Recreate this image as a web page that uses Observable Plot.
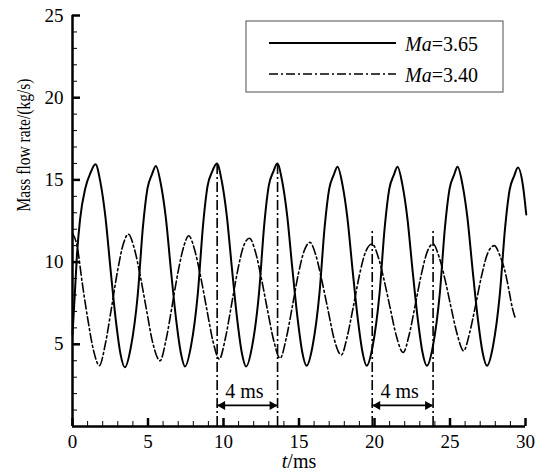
<!DOCTYPE html>
<html>
<head>
<meta charset="utf-8">
<script src="https://cdn.jsdelivr.net/npm/d3@7"></script>
<script src="https://cdn.jsdelivr.net/npm/@observablehq/plot@0.6"></script>
<style>
  body { margin: 0; background: #fff; }
  #wrap { position: relative; width: 542px; height: 473px; overflow: hidden; background: #fff; }
  #legend { position: absolute; left: 245px; top: 20px; }
  svg text { font-family: "Liberation Serif", Tinos, "Times New Roman", "DejaVu Serif", serif; }
</style>
</head>
<body>
<div id="wrap"><div id="chart"></div><svg id="legend" width="262" height="76"></svg></div>
<script>
// ---- data ----
const seriesNames = ["3.65", "3.40"];

// Ma = 3.65 (solid)
const t365 = [0, 0.15, 0.3, 0.5, 0.85, 1.2, 1.52,
  1.85, 2.18, 2.52, 2.87, 3.17, 3.47,
  3.87, 4.32, 4.67, 4.97, 5.27, 5.52,
  5.85, 6.18, 6.52, 6.87, 7.17, 7.45,
  7.85, 8.3, 8.65, 8.95, 9.25, 9.56,
  9.89, 10.22, 10.56, 10.91, 11.21, 11.5,
  11.9, 12.35, 12.7, 13.0, 13.3, 13.56,
  13.89, 14.22, 14.56, 14.91, 15.21, 15.5,
  15.9, 16.35, 16.7, 17.0, 17.3, 17.55,
  17.88, 18.21, 18.55, 18.9, 19.2, 19.48,
  19.88, 20.33, 20.68, 20.98, 21.28, 21.52,
  21.85, 22.18, 22.52, 22.87, 23.17, 23.47,
  23.87, 24.32, 24.67, 24.97, 25.27, 25.5,
  25.83, 26.16, 26.5, 26.85, 27.15, 27.45,
  27.85, 28.3, 28.65, 28.95, 29.25, 29.5,
  29.83, 30.05];
const v365 = [5.6, 8.0, 10.5, 12.6, 14.5, 15.45, 15.95,
  14.85, 12.75, 9.55, 6.45, 4.45, 3.6,
  4.85, 8.0, 12.2, 14.5, 15.35, 15.85,
  14.75, 12.7, 9.5, 6.45, 4.5, 3.65,
  4.9, 8.1, 12.3, 14.65, 15.5, 16.0,
  14.9, 12.8, 9.6, 6.5, 4.5, 3.65,
  4.9, 8.1, 12.3, 14.65, 15.5, 16.0,
  14.9, 12.8, 9.6, 6.55, 4.55, 3.7,
  4.9, 8.05, 12.15, 14.45, 15.3, 15.8,
  14.7, 12.65, 9.5, 6.5, 4.55, 3.7,
  4.9, 8.05, 12.15, 14.45, 15.3, 15.8,
  14.7, 12.65, 9.5, 6.5, 4.55, 3.7,
  4.9, 8.05, 12.15, 14.45, 15.3, 15.8,
  14.7, 12.65, 9.5, 6.5, 4.55, 3.7,
  4.9, 8.05, 12.1, 14.4, 15.25, 15.75,
  14.65, 12.9];

// Ma = 3.40 (dash-dot)
const t340 = [0, 0.3, 0.65, 1.0, 1.4, 1.78,
  2.18, 2.58, 2.98, 3.38, 3.7,
  4.1, 4.5, 4.9, 5.3, 5.8,
  6.2, 6.6, 7.0, 7.4, 7.7,
  8.1, 8.5, 8.9, 9.3, 9.72,
  10.12, 10.52, 10.92, 11.32, 11.72,
  12.12, 12.52, 12.92, 13.32, 13.75,
  14.15, 14.55, 14.95, 15.35, 15.72,
  16.12, 16.52, 16.92, 17.32, 17.8,
  18.2, 18.6, 19.0, 19.4, 19.85,
  20.25, 20.65, 21.05, 21.45, 21.9,
  22.3, 22.7, 23.1, 23.5, 23.88,
  24.28, 24.68, 25.08, 25.48, 25.9,
  26.3, 26.7, 27.1, 27.5, 27.93,
  28.34, 28.68, 28.9, 29.12, 29.34];
const v340 = [11.75, 11.0, 8.7, 6.6, 4.6, 3.7,
  5.05, 7.2, 9.45, 11.15, 11.7,
  10.8, 9.1, 7.1, 5.15, 4.0,
  5.3, 7.35, 9.45, 11.05, 11.6,
  10.7, 9.05, 7.1, 5.2, 4.1,
  5.35, 7.35, 9.4, 10.95, 11.45,
  10.6, 8.95, 7.05, 5.25, 4.15,
  5.35, 7.25, 9.25, 10.7, 11.2,
  10.4, 8.85, 7.1, 5.35, 4.35,
  5.5, 7.3, 9.2, 10.6, 11.1,
  10.3, 8.85, 7.15, 5.5, 4.5,
  5.6, 7.4, 9.25, 10.65, 11.1,
  10.3, 8.9, 7.2, 5.6, 4.6,
  5.7, 7.4, 9.2, 10.55, 11.0,
  10.3, 9.3, 8.3, 7.25, 6.55];

// annotation: period markers
const markerT = [9.58, 13.58, 19.85, 23.88];
const markerTop = [16.0, 16.0, 12.0, 12.0];
const spanFrom = [9.58, 19.85];
const spanTo = [13.58, 23.88];
const spanLabel = ["4 ms", "4 ms"];
const arrowLevel = 1.28;
const spanTextLevel = 2.1;

// ticks
const xTicks = [0, 5, 10, 15, 20, 25, 30];
const yTicks = [5, 10, 15, 20, 25];
const xMinor = d3.range(0, 31, 1).filter(d => d % 5 !== 0);
const yMinor = d3.range(0, 26, 1).filter(d => d % 5 !== 0);

const yLabel = "Mass flow rate/(kg/s)";
const xLabel = "t/ms";

// ---- build ----
const solid = t365.map((t, i) => ({t, v: v365[i]}));
const dashed = t340.map((t, i) => ({t, v: v340[i]}));
const markers = markerT.map((t, i) => ({t, top: markerTop[i]}));
const spans = spanFrom.map((f, i) => ({from: f, to: spanTo[i], mid: (f + spanTo[i]) / 2, label: spanLabel[i]}));

const W = 542, H = 473, mL = 72, mR = 17, mT = 15, mB = 47;
const plotW = W - mL - mR, plotH = H - mT - mB;
const serif = '"Liberation Serif", Tinos, "Times New Roman", "DejaVu Serif", serif';
const dashDot = "9,3,2,3";

const chart = Plot.plot({
  width: W, height: H,
  marginLeft: mL, marginRight: mR, marginTop: mT, marginBottom: mB,
  x: {domain: [0, 30]},
  y: {domain: [0, 25]},
  style: {fontFamily: serif, fontSize: "19px", color: "black", background: "white", overflow: "visible"},
  marks: [
    Plot.lineY(dashed, {x: "t", y: "v", curve: "monotone-x", stroke: "black", strokeWidth: 1.6, strokeDasharray: dashDot}),
    Plot.lineY(solid, {x: "t", y: "v", curve: "monotone-x", stroke: "black", strokeWidth: 2}),
    Plot.ruleX(markers, {x: "t", y1: 0, y2: "top", stroke: "black", strokeWidth: 1.6, strokeDasharray: "10,3,2,3"}),
    Plot.ruleY(spans, {x1: "from", x2: "to", y: () => arrowLevel, stroke: "black", strokeWidth: 1.8}),
    Plot.dot(spans, {x: "from", y: () => arrowLevel, symbol: "triangle", r: 3.4, rotate: -90, dx: 5.3, fill: "black", stroke: "none"}),
    Plot.dot(spans, {x: "to", y: () => arrowLevel, symbol: "triangle", r: 3.4, rotate: 90, dx: -5.3, fill: "black", stroke: "none"}),
    Plot.text(spans, {x: "mid", y: () => spanTextLevel, text: "label", fontSize: 20, dx: -3, fill: "black"}),
    // axis lines
    Plot.ruleX([0], {x: d => d, stroke: "black", strokeWidth: 2.5}),
    Plot.ruleY([0], {y: d => d, stroke: "black", strokeWidth: 2.5}),
    // inward ticks
    Plot.ruleX(xTicks, {x: d => d, insetTop: plotH - 8, stroke: "black", strokeWidth: 2.5}),
    Plot.ruleX(xMinor, {x: d => d, insetTop: plotH - 5, stroke: "black", strokeWidth: 1}),
    Plot.ruleY(yTicks, {y: d => d, insetRight: plotW - 8, stroke: "black", strokeWidth: 2.5}),
    Plot.ruleY(yMinor, {y: d => d, insetRight: plotW - 5, stroke: "black", strokeWidth: 1}),
    Plot.axisX({ticks: xTicks, tickSize: 0, tickPadding: 8, fontSize: 19, label: null}),
    Plot.axisY({ticks: yTicks, tickSize: 0, tickPadding: 9, fontSize: 19, label: null}),
    Plot.text([yLabel], {text: d => d, frameAnchor: "left", rotate: -90, dx: -48, dy: -9.5, fontSize: 18, fill: "black"}),
    Plot.text([xLabel], {text: d => d, frameAnchor: "bottom", dy: 41.5, fontSize: 20, fill: "black"})
  ]
});
document.getElementById("chart").appendChild(chart);

// italic "t" in the x label
d3.select(chart).selectAll("text").filter(function () { return this.textContent === xLabel; })
  .each(function () {
    const s = d3.select(this);
    s.text(null);
    s.append("tspan").attr("font-style", "italic").text("t");
    s.append("tspan").text("/ms");
  });
// the y title in the reference is set slightly condensed
d3.select(chart).selectAll("text").filter(function () { return this.textContent === yLabel; })
  .attr("textLength", 133).attr("lengthAdjust", "spacingAndGlyphs");

// ---- legend (boxed, inside the plot area) ----
const lg = d3.select("#legend");
lg.append("rect").attr("x", 1).attr("y", 1).attr("width", 257).attr("height", 71)
  .attr("fill", "white").attr("stroke", "#6b6b6b").attr("stroke-width", 1.2);
const rows = [{name: seriesNames[0], dash: null, w: 2}, {name: seriesNames[1], dash: dashDot, w: 1.6}];
rows.forEach((r, i) => {
  const ly = 23 + i * 31;
  lg.append("line").attr("x1", 24).attr("x2", 151).attr("y1", ly).attr("y2", ly)
    .attr("stroke", "black").attr("stroke-width", r.w).attr("stroke-dasharray", r.dash);
  const tx = lg.append("text").attr("x", 160).attr("y", ly + 8)
    .attr("font-size", 20).attr("fill", "black");
  tx.append("tspan").attr("font-style", "italic").text("Ma");
  tx.append("tspan").text("=" + r.name);
});
</script>
</body>
</html>
